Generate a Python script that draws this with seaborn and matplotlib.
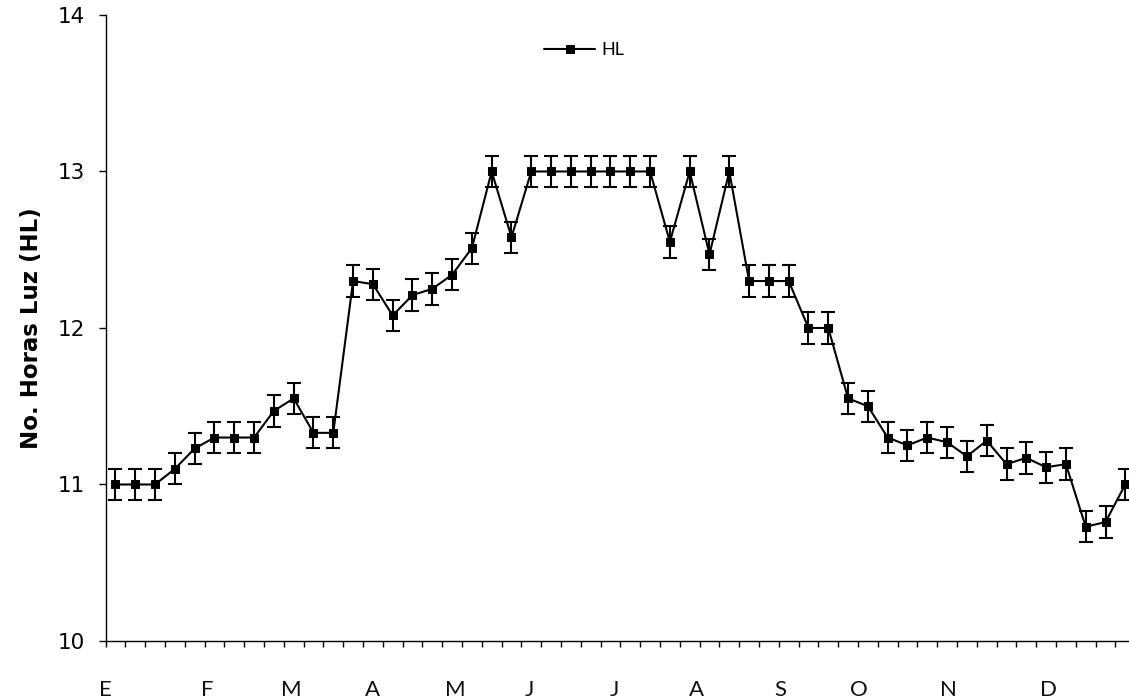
import numpy as np
import matplotlib
matplotlib.use('Agg')
import matplotlib.pyplot as plt
import matplotlib.transforms as mtransforms
import seaborn as sns

# horas luz por semana (52 semanas)
hl = [11.0, 11.0, 11.0, 11.10, 11.23, 11.30, 11.30, 11.30, 11.47, 11.55,
      11.33, 11.33, 12.30, 12.28, 12.08, 12.21, 12.25, 12.34, 12.51, 13.0,
      12.58, 13.0, 13.0, 13.0, 13.0, 13.0, 13.0, 13.0, 12.55, 13.0,
      12.47, 13.0, 12.30, 12.30, 12.30, 12.0, 12.0, 11.55, 11.50, 11.30,
      11.25, 11.30, 11.27, 11.18, 11.28, 11.13, 11.17, 11.11, 11.13, 10.73,
      10.76, 11.0]
err = [0.1] * len(hl)
semana = list(range(len(hl)))

meses = ['E', 'F', 'M', 'A', 'M', 'J', 'J', 'A', 'S', 'O', 'N', 'D']
mes_pos = [-0.5, 4.63, 8.87, 12.96, 17.15, 20.89, 25.18, 29.32, 33.57, 37.56, 42.05, 47.1]

sns.set_style('ticks')
plt.rcParams['text.color'] = 'black'
plt.rcParams['xtick.color'] = 'black'
plt.rcParams['ytick.color'] = 'black'

fig = plt.figure(figsize=(11.29, 7.0), dpi=100)
ax = fig.add_axes([0.0935, 0.0843, 0.912, 0.8943])

ax.errorbar(semana, hl, yerr=err, fmt='none', ecolor='black', elinewidth=1.5,
            capsize=5, capthick=1.5, zorder=2)
sns.lineplot(x=semana, y=hl, ax=ax, color='black', marker='s', markersize=5.5,
             markeredgecolor='black', linewidth=1.5, label='HL', zorder=3)

ax.set_xlim(-0.5, 51.5)
ax.set_ylim(10, 14)
ax.set_yticks([10, 11, 12, 13, 14])
ax.set_yticklabels(['10', '11', '12', '13', '14'], fontfamily='DejaVu Sans', fontsize=15.5)
ax.set_xticks(np.arange(-0.5, 52, 1))
ax.set_xticklabels([])
ax.tick_params(axis='x', length=4, width=1, direction='out')
ax.tick_params(axis='y', length=5, width=1, direction='out', pad=10)

# etiquetas de mes bajo el eje
trans = mtransforms.blended_transform_factory(ax.transData, ax.transAxes)
for m, p in zip(meses, mes_pos):
    ax.text(p, -0.079, m, transform=trans, ha='center', va='center',
            fontfamily='Lato', fontsize=16, color='#111111')

for s in ['top', 'right']:
    ax.spines[s].set_visible(False)
for s in ['left', 'bottom']:
    ax.spines[s].set_linewidth(1)
    ax.spines[s].set_color('black')

ax.set_ylabel('No. Horas Luz (HL)', fontfamily='DejaVu Sans',
              fontweight='bold', fontsize=16.5, labelpad=10, color='black')
ax.set_xlabel('')

leg = ax.legend(loc='center', bbox_to_anchor=(0.465, 0.944), frameon=False,
                handlelength=2.8, handletextpad=0.35,
                prop={'family': 'Lato', 'size': 13})

fig.savefig('out.png', dpi=100)
